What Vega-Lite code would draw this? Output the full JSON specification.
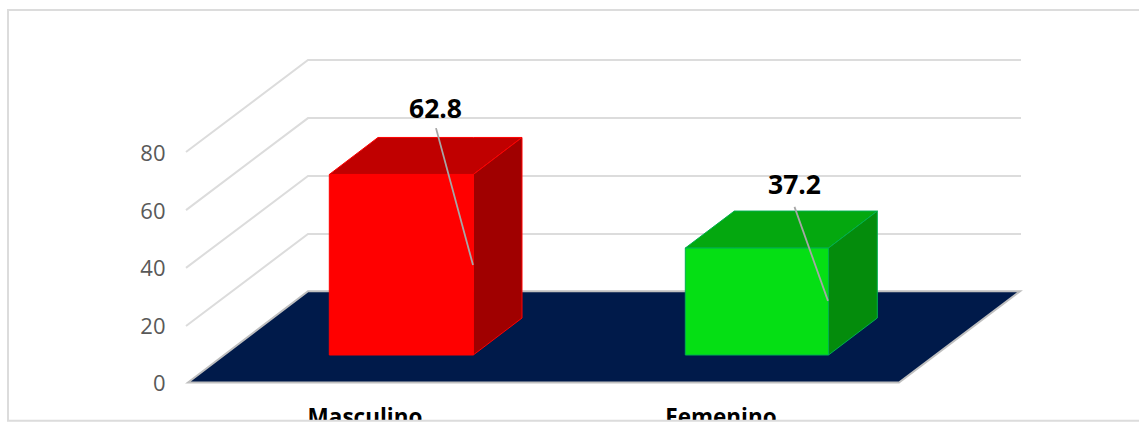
{
"$schema":"https://vega.github.io/schema/vega-lite/v6.json",
"width":1139,"height":423,"padding":0,"autosize":{"type":"none"},"background":"white",
"config":{"view":{"stroke":null}},
"datasets":{
"grid":[
{"level":20,"x":186,"y":19.5},{"level":20,"x":308,"y":51.5},{"level":20,"x":1021,"y":51.5},
{"level":40,"x":186,"y":39.7},{"level":40,"x":308,"y":71.65},{"level":40,"x":1021,"y":71.65},
{"level":60,"x":186,"y":59.8},{"level":60,"x":308,"y":91.8},{"level":60,"x":1021,"y":91.8},
{"level":80,"x":186,"y":80},{"level":80,"x":308,"y":112},{"level":80,"x":1021,"y":112}],
"floor":[
{"x":188,"y":-0.2,"y2":-0.2},{"x":308,"y":31.6,"y2":-0.2},{"x":899,"y":31.6,"y2":-0.2},{"x":1020,"y":31.6,"y2":31.6}],
"faces":[
{"part":"Masculino top","x":329.3,"y":72.19,"y2":72.19},{"part":"Masculino top","x":378,"y":85.06,"y2":72.19},{"part":"Masculino top","x":473.3,"y":85.06,"y2":72.19},{"part":"Masculino top","x":522,"y":85.06,"y2":85.06},
{"part":"Masculino side","x":473.3,"y":72.19,"y2":9.39},{"part":"Masculino side","x":522,"y":85.06,"y2":22.26},
{"part":"Masculino front","x":329.3,"y":72.19,"y2":9.39},{"part":"Masculino front","x":473.3,"y":72.19,"y2":9.39},
{"part":"Femenino top","x":685.3,"y":46.59,"y2":46.59},{"part":"Femenino top","x":734.3,"y":59.46,"y2":46.59},{"part":"Femenino top","x":828.5,"y":59.46,"y2":46.59},{"part":"Femenino top","x":877.3,"y":59.46,"y2":59.46},
{"part":"Femenino side","x":828.5,"y":46.59,"y2":9.39},{"part":"Femenino side","x":877.3,"y":59.46,"y2":22.26},
{"part":"Femenino front","x":685.3,"y":46.59,"y2":9.39},{"part":"Femenino front","x":828.5,"y":46.59,"y2":9.39}],
"leaders":[
{"label":"62.8","x":436,"y":88.3},{"label":"62.8","x":473,"y":40.7},
{"label":"37.2","x":794.5,"y":60.9},{"label":"37.2","x":828,"y":28.2}],
"values":[{"label":"62.8","x":435.5,"y":94.7},{"label":"37.2","x":794.5,"y":68.2}],
"categories":[{"label":"Masculino","x":365,"y":-14.9},{"label":"Femenino","x":721,"y":-14.9}],
"cover":[{"x":0,"x2":1139,"y":-13.6,"y2":-14.3}],
"frame":[{"step":1,"x":1139,"y":129.4},{"step":2,"x":8,"y":129.4},{"step":3,"x":8,"y":-13.5},{"step":4,"x":1139,"y":-13.5}]
},
"encoding":{
"x":{"field":"x","type":"quantitative","scale":{"domain":[0,1139],"nice":false,"zero":false},"axis":null},
"y":{"field":"y","type":"quantitative","stack":null,"scale":{"domain":[-14.26,132.87],"nice":false,"zero":false},
"axis":{"title":null,"values":[0,20,40,60,80],"format":"d","domain":false,"ticks":false,"grid":false,"offset":-165,"labelPadding":0,"labelOffset":1.5,"labelFont":"Open Sans","labelFontSize":22,"labelColor":"#595959"}}
},
"layer":[
{"data":{"name":"grid"},"mark":{"type":"line","color":"#dcdcdc","strokeWidth":2},"encoding":{"detail":{"field":"level"}}},
{"data":{"name":"floor"},"mark":{"type":"area","color":"#001a4a","stroke":"#bfbfbf","strokeWidth":2},"encoding":{"y2":{"field":"y2"}}},
{"data":{"name":"faces"},"mark":{"type":"area","strokeWidth":1},"encoding":{
"y2":{"field":"y2"},
"color":{"field":"part","type":"nominal","legend":null,"scale":{"domain":["Masculino top","Masculino side","Masculino front","Femenino top","Femenino side","Femenino front"],"range":["#c00000","#a00000","#ff0000","#04a80f","#048c0c","#05df14"]}},
"stroke":{"field":"part","type":"nominal","legend":null,"scale":{"domain":["Masculino top","Masculino side","Masculino front","Femenino top","Femenino side","Femenino front"],"range":["#ff0000","#ff0000","#ff0000","#00b050","#00b050","#00b050"]}}}},
{"data":{"name":"leaders"},"mark":{"type":"line","color":"#a6a6a6","strokeWidth":1.8},"encoding":{"detail":{"field":"label"}}},
{"data":{"name":"values"},"mark":{"type":"text","font":"Open Sans","fontWeight":"bold","fontSize":26.5,"color":"#000000","align":"center","baseline":"middle"},"encoding":{"text":{"field":"label"}}},
{"data":{"name":"categories"},"mark":{"type":"text","font":"Open Sans","fontWeight":"bold","fontSize":22.5,"color":"#000000","align":"center","baseline":"alphabetic"},"encoding":{"text":{"field":"label"}}},
{"data":{"name":"cover"},"mark":{"type":"rect","color":"white"},"encoding":{"x2":{"field":"x2"},"y2":{"field":"y2"}}},
{"data":{"name":"frame"},"mark":{"type":"line","color":"#dcdcdc","strokeWidth":2},"encoding":{"order":{"field":"step"}}}
]
}
